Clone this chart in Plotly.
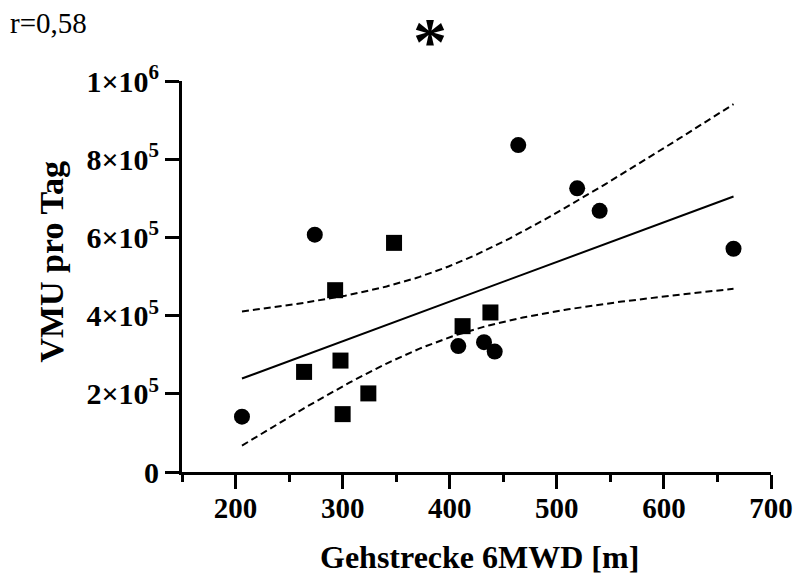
import numpy as np
import plotly.graph_objects as go

# 6-minute walk distance (m) vs. VMU per day, two patient groups
circle_x = [206, 274, 408, 432, 442, 464, 519, 540, 665]
circle_y = [141500, 607000, 322000, 332000, 308000, 836000, 725500, 668000, 571000]
square_x = [264, 293, 298, 300, 324, 348, 412, 438]
square_y = [256000, 465000, 285000, 148000, 201000, 586000, 373000, 408000]

x_ticks = [200, 300, 400, 500, 600, 700]
x_tick_text = ["200", "300", "400", "500", "600", "700"]
y_ticks = [0, 200000, 400000, 600000, 800000, 1000000]
y_tick_text = ["0", "2×10<sup>5</sup>", "4×10<sup>5</sup>", "6×10<sup>5</sup>",
               "8×10<sup>5</sup>", "1×10<sup>6</sup>"]

corr_label = "r=0,58"
sig_label = "*"
x_title = "Gehstrecke 6MWD [m]"
y_title = "VMU pro Tag"

# ---- linear regression with 95 % confidence band of the mean ----
x_all = np.array(circle_x + square_x, dtype=float)
y_all = np.array(circle_y + square_y, dtype=float)
n = len(x_all)
slope, intercept = np.polyfit(x_all, y_all, 1)
resid = y_all - (slope * x_all + intercept)
s_err = np.sqrt(np.sum(resid ** 2) / (n - 2))
x_mean = x_all.mean()
sxx = np.sum((x_all - x_mean) ** 2)
T_CRIT = 2.1314  # two-sided 95 %, df = 15

x_fit = np.linspace(x_all.min(), x_all.max(), 120)
y_fit = slope * x_fit + intercept
half = T_CRIT * s_err * np.sqrt(1.0 / n + (x_fit - x_mean) ** 2 / sxx)

FONT = "Liberation Serif"
W, H = 795, 581
M_L, M_R, M_T, M_B = 181.5, 24.3, 80.5, 108.5
PW, PH = W - M_L - M_R, H - M_T - M_B


def px_x(px):
    return (px - M_L) / PW


def px_y(py):
    return (H - M_B - py) / PH


def bold(labels):
    return [f"<b>{t}</b>" for t in labels]


fig = go.Figure()
fig.add_trace(go.Scatter(x=x_fit, y=y_fit + half, mode="lines",
                         line=dict(color="black", width=2, dash="7px,4px"),
                         hoverinfo="skip"))
fig.add_trace(go.Scatter(x=x_fit, y=y_fit - half, mode="lines",
                         line=dict(color="black", width=2, dash="7px,4px"),
                         hoverinfo="skip"))
fig.add_trace(go.Scatter(x=x_fit, y=y_fit, mode="lines",
                         line=dict(color="black", width=2)))
fig.add_trace(go.Scatter(x=circle_x, y=circle_y, mode="markers",
                         marker=dict(symbol="circle", size=16, color="black")))
fig.add_trace(go.Scatter(x=square_x, y=square_y, mode="markers",
                         marker=dict(symbol="square", size=16, color="black")))

fig.update_layout(
    width=W, height=H,
    margin=dict(l=M_L, r=M_R, t=M_T, b=M_B, autoexpand=False),
    paper_bgcolor="white", plot_bgcolor="white",
    showlegend=False,
    font=dict(family=FONT, color="black"),
    xaxis=dict(
        range=[150, 700], tickmode="array", tickvals=x_ticks,
        ticktext=bold(x_tick_text),
        showline=True, linecolor="black", linewidth=3,
        ticks="outside", ticklen=14, tickwidth=3, tickcolor="black",
        ticklabelstandoff=-6,
        tickfont=dict(family=FONT, size=29, color="black"),
        showgrid=False, zeroline=False,
        minor=dict(dtick=50, tick0=0, ticks="outside", ticklen=7,
                   tickwidth=3, tickcolor="black", showgrid=False),
    ),
    yaxis=dict(
        range=[0, 1000000], tickmode="array", tickvals=y_ticks,
        ticktext=bold(y_tick_text),
        showline=True, linecolor="black", linewidth=3,
        ticks="outside", ticklen=14, tickwidth=3, tickcolor="black",
        tickfont=dict(family=FONT, size=30, color="black"),
        showgrid=False, zeroline=False,
    ),
    annotations=[
        dict(text=f"<b>{x_title}</b>", xref="paper", yref="paper",
             x=px_x(479), y=px_y(558), xanchor="center", yanchor="middle",
             showarrow=False, font=dict(family=FONT, size=32, color="black")),
        dict(text=f"<b>{y_title}</b>", xref="paper", yref="paper",
             x=px_x(50), y=px_y(262), xanchor="center", yanchor="middle",
             textangle=-90, showarrow=False,
             font=dict(family=FONT, size=34, color="black")),
        dict(text=corr_label, xref="paper", yref="paper",
             x=px_x(7), y=px_y(22), xanchor="left", yanchor="middle",
             showarrow=False, font=dict(family=FONT, size=29, color="black")),
        dict(text=f"<b>{sig_label}</b>", xref="paper", yref="paper",
             x=px_x(430), y=px_y(0), xanchor="center", yanchor="top",
             showarrow=False, font=dict(family=FONT, size=68, color="black")),
    ],
)

fig.write_html("out.html")
